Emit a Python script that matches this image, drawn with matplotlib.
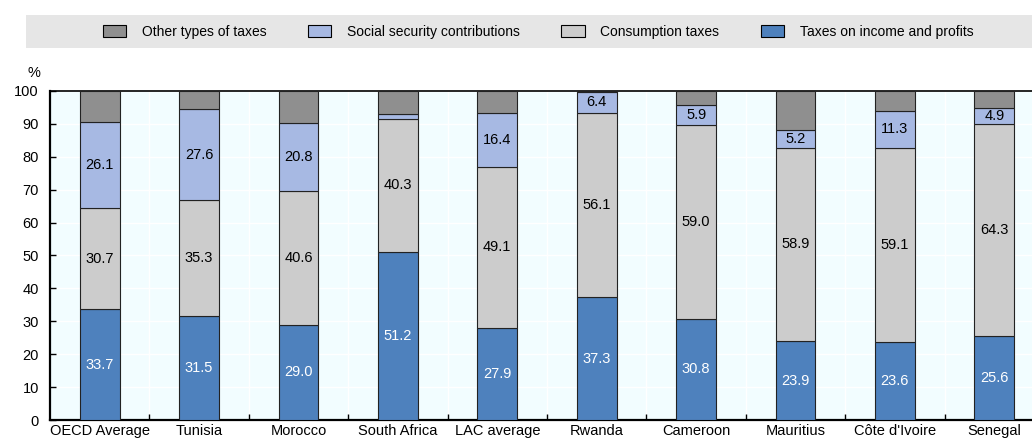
import numpy as np
import matplotlib.pyplot as plt
from matplotlib.patches import Rectangle, Patch

# Data
countries = ["OECD Average", "Tunisia", "Morocco", "South Africa", "LAC average",
             "Rwanda", "Cameroon", "Mauritius", "Côte d'Ivoire", "Senegal"]
income = [33.7, 31.5, 29.0, 51.2, 27.9, 37.3, 30.8, 23.9, 23.6, 25.6]
consumption = [30.7, 35.3, 40.6, 40.3, 49.1, 56.1, 59.0, 58.9, 59.1, 64.3]
social = [26.1, 27.6, 20.8, 1.6, 16.4, 6.4, 5.9, 5.2, 11.3, 4.9]
other = [9.5, 5.6, 9.6, 6.9, 6.6, 0.2, 4.3, 12.0, 6.0, 5.2]
show_social = [True, True, True, False, True, True, True, True, True, True]

c_income = "#4e81bd"
c_cons = "#cccccc"
c_social = "#a7b9e3"
c_other = "#8f8f8f"

plt.rcParams['font.family'] = ['Liberation Sans', 'DejaVu Sans']
plt.rcParams['font.size'] = 10

W, H = 1032, 441
fig = plt.figure(figsize=(W / 100, H / 100), dpi=100)

# legend band
fig.patches.append(Rectangle((26 / W, 1 - 48 / H), 1 - 26 / W, 33 / H,
                             transform=fig.transFigure, facecolor="#e6e6e6",
                             edgecolor="none", zorder=0))

ax = fig.add_axes([50 / W, 21 / H, 994 / W, 329 / H])
ax.set_facecolor("#f2fdff")

x = np.arange(len(countries))
bw = 0.4
income = np.array(income)
consumption = np.array(consumption)
social = np.array(social)
other = np.array(other)

ax.bar(x, income, bw, color=c_income, edgecolor="#222222", linewidth=0.8, zorder=3)
ax.bar(x, consumption, bw, bottom=income, color=c_cons, edgecolor="#222222", linewidth=0.8, zorder=3)
ax.bar(x, social, bw, bottom=income + consumption, color=c_social, edgecolor="#222222", linewidth=0.8, zorder=3)
ax.bar(x, other, bw, bottom=income + consumption + social, color=c_other, edgecolor="#222222", linewidth=0.8, zorder=3)

for i in range(len(countries)):
    ax.text(x[i], income[i] / 2, f"{income[i]:.1f}", ha="center", va="center", color="white", fontsize=10.5, zorder=4)
    ax.text(x[i], income[i] + consumption[i] / 2, f"{consumption[i]:.1f}", ha="center", va="center", fontsize=10.5, zorder=4)
    if show_social[i]:
        ax.text(x[i], income[i] + consumption[i] + social[i] / 2, f"{social[i]:.1f}", ha="center", va="center", fontsize=10.5, zorder=4)

ax.set_xlim(-0.5, len(countries) - 0.5)
ax.set_ylim(0, 100)
ax.set_yticks(np.arange(0, 101, 10))
ax.set_xticks(x)
ax.set_xticklabels(countries, fontsize=10.5)
ax.set_xticks(np.arange(0.5, len(countries) - 0.5, 1), minor=True)
ax.tick_params(axis="x", which="major", length=0, pad=3)
ax.tick_params(axis="x", which="minor", direction="in", length=4, width=1)
ax.tick_params(axis="y", direction="in", length=4, width=1, labelsize=10.5, pad=8)

ax.grid(True, axis="y", color="white", linewidth=1, zorder=1)
ax.grid(True, axis="x", which="minor", color="white", linewidth=1, zorder=1)
for s in ["left", "bottom"]:
    ax.spines[s].set_linewidth(1.6)
ax.spines["top"].set_linewidth(1.2)

fig.text(27 / W, 1 - 73 / H, "%", fontsize=10.5, ha="left", va="center")

handles = [Patch(facecolor=c_other, edgecolor="black", linewidth=0.8, label="Other types of taxes"),
           Patch(facecolor=c_social, edgecolor="black", linewidth=0.8, label="Social security contributions"),
           Patch(facecolor=c_cons, edgecolor="black", linewidth=0.8, label="Consumption taxes"),
           Patch(facecolor=c_income, edgecolor="black", linewidth=0.8, label="Taxes on income and profits")]
fig.legend(handles=handles, loc="center", bbox_to_anchor=(538 / W, 1 - 32 / H), ncol=4,
           frameon=False, fontsize=10, handlelength=1.7, handleheight=0.9,
           columnspacing=3.0, handletextpad=1.1)

fig.savefig("out.png", dpi=100)
